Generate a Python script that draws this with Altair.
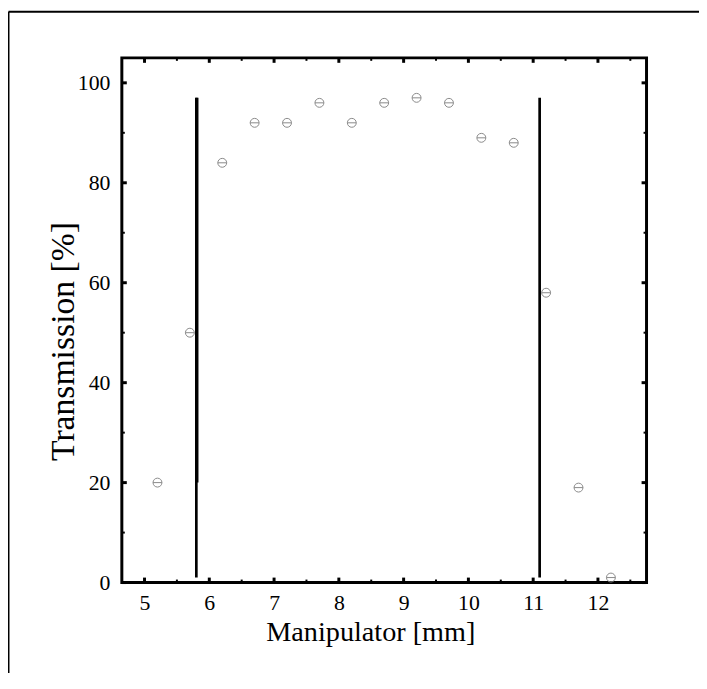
import altair as alt
import pandas as pd

# Measured data points (Manipulator position [mm], Transmission [%])
pos_mm = [5.2, 5.7, 6.2, 6.7, 7.2, 7.7, 8.2, 8.7, 9.2, 9.7, 10.2, 10.7, 11.2, 11.7, 12.2]
trans_pct = [20, 50, 84, 92, 92, 96, 92, 96, 97, 96, 89, 88, 58, 19, 1]

# Vertical marker lines
line_x = [5.8, 11.1]
line_lo = [1, 1]
line_hi = [97, 97]
# overlaid thicker segment on the left marker
seg_x = [5.81]
seg_lo = [20]
seg_hi = [97]

# Tick positions
x_major = [5, 6, 7, 8, 9, 10, 11, 12]
x_minor = [5.5, 6.5, 7.5, 8.5, 9.5, 10.5, 11.5, 12.5]
y_major = [0, 20, 40, 60, 80, 100]
y_minor = [10, 30, 50, 70, 90]

W, H = 530, 530
PAD_L, PAD_T = 115, 47
TOTAL_W, TOTAL_H = 698, 665
FONT = "Liberation Serif"

xs = alt.Scale(domain=[4.65, 12.75], nice=False, zero=False)
ys = alt.Scale(domain=[0, 105], nice=False, zero=False)

x_axis = alt.Axis(
    values=x_major, title="Manipulator [mm]", grid=False, domain=False,
    ticks=False, tickSize=0, labelPadding=27, labelBaseline="alphabetic",
    labelFont=FONT, labelFontSize=22, labelColor="black",
    titleFont=FONT, titleFontSize=28.5, titleFontWeight="normal", titleColor="black",
    titleX=251, titleY=59, titleBaseline="alphabetic", titleAlign="center",
)
y_axis = alt.Axis(
    values=y_major, title="Transmission [%]", grid=False, domain=False,
    ticks=False, tickSize=0, labelPadding=12,
    labelFont=FONT, labelFontSize=22, labelColor="black",
    titleFont=FONT, titleFontSize=34, titleFontWeight="normal", titleColor="black",
    titleX=-49, titleY=286, titleBaseline="alphabetic", titleAlign="center", titleAngle=270,
)

pts = pd.DataFrame({"x": pos_mm, "y": trans_pct})
lines = pd.DataFrame({"x": line_x, "lo": line_lo, "hi": line_hi})
seg = pd.DataFrame({"x": seg_x, "lo": seg_lo, "hi": seg_hi})

circle_minus = "M-1,0A1,1,0,1,1,1,0A1,1,0,1,1,-1,0ZM-1,0L1,0"

points = alt.Chart(pts).mark_point(
    shape=circle_minus, size=81, filled=False, color="#8a8a8a", strokeWidth=1, opacity=1
).encode(
    x=alt.X("x:Q", scale=xs, axis=x_axis),
    y=alt.Y("y:Q", scale=ys, axis=y_axis),
)

vlines = alt.Chart(lines).mark_rule(color="black", strokeWidth=2.7).encode(
    x=alt.X("x:Q", scale=xs, axis=x_axis),
    y=alt.Y("lo:Q", scale=ys, axis=y_axis),
    y2="hi:Q",
)
vseg = alt.Chart(seg).mark_rule(color="black", strokeWidth=3).encode(
    x=alt.X("x:Q", scale=xs, axis=x_axis),
    y=alt.Y("lo:Q", scale=ys, axis=y_axis),
    y2="hi:Q",
)

def xticks(vals, length, width):
    d = pd.DataFrame({"t": vals})
    bottom = alt.Chart(d).mark_rule(color="black", strokeWidth=width).encode(
        x=alt.X("t:Q", scale=xs, axis=x_axis), y=alt.value(H), y2=alt.value(H - length))
    top = alt.Chart(d).mark_rule(color="black", strokeWidth=width).encode(
        x=alt.X("t:Q", scale=xs, axis=x_axis), y=alt.value(0), y2=alt.value(length))
    return [bottom, top]

def yticks(vals, length, width):
    d = pd.DataFrame({"t": vals})
    left = alt.Chart(d).mark_rule(color="black", strokeWidth=width).encode(
        y=alt.Y("t:Q", scale=ys, axis=y_axis), x=alt.value(0), x2=alt.value(length))
    right = alt.Chart(d).mark_rule(color="black", strokeWidth=width).encode(
        y=alt.Y("t:Q", scale=ys, axis=y_axis), x=alt.value(W), x2=alt.value(W - length))
    return [left, right]

frame_data = alt.Data(values=[{}])
frame_left = alt.Chart(frame_data).mark_rule(color="black", strokeWidth=2).encode(
    x=alt.value(-PAD_L + 0.5), y=alt.value(-PAD_T + 0.5), y2=alt.value(TOTAL_H - PAD_T + 5))
frame_top = alt.Chart(frame_data).mark_rule(color="black", strokeWidth=2).encode(
    x=alt.value(-PAD_L + 0.5), x2=alt.value(TOTAL_W - PAD_L + 5), y=alt.value(-PAD_T + 0.5))

layers = [points, vlines, vseg]
layers += xticks(x_major, 5, 3) + xticks(x_minor, 3, 2)
layers += yticks(y_major, 5, 3) + yticks(y_minor, 3, 2)
layers += [frame_left, frame_top]

chart = alt.layer(*layers).properties(
    width=W, height=H,
    autosize=alt.AutoSizeParams(type="none"),
    padding={"left": PAD_L, "top": PAD_T, "right": TOTAL_W - PAD_L - W, "bottom": TOTAL_H - PAD_T - H},
    background="white",
).configure_view(stroke="black", strokeWidth=3)

chart.save("out.html", embed_options={"renderer": "svg", "actions": False})
